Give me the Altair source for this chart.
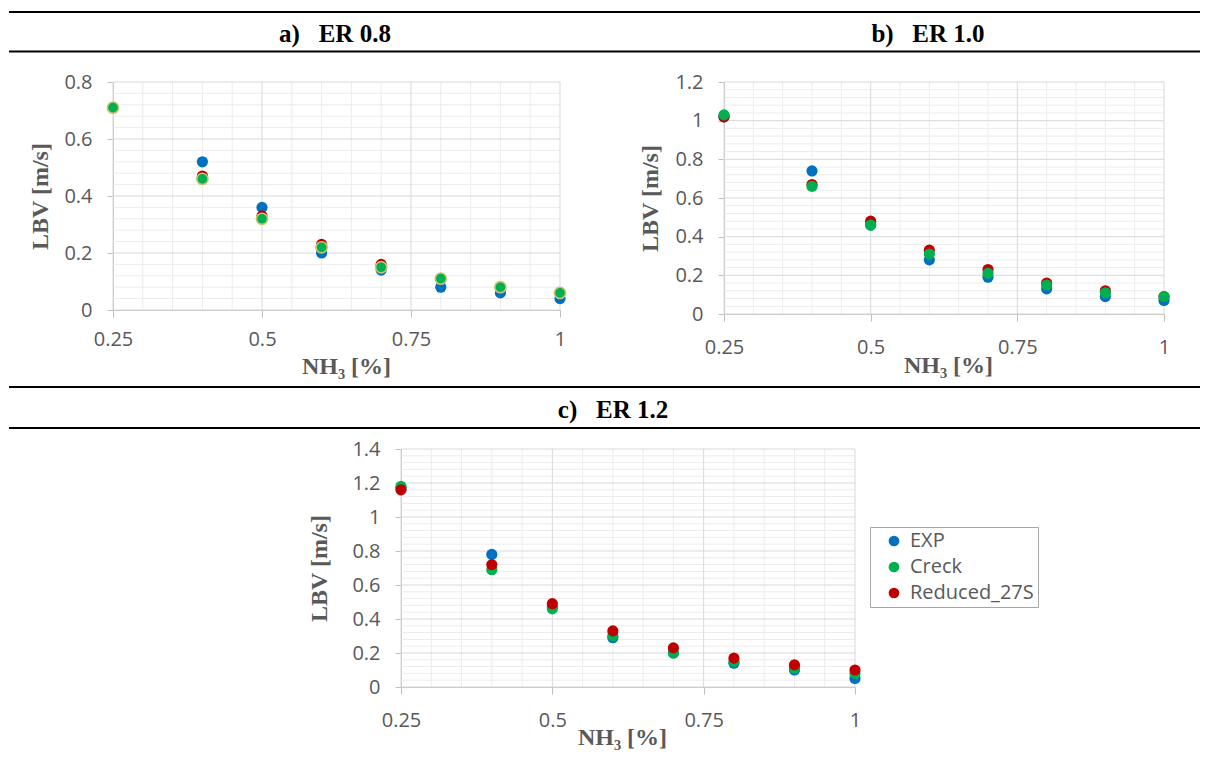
import altair as alt
import pandas as pd

W, H = 1208, 759

# ---------------- data ----------------
nh3 = [0.25, 0.4, 0.5, 0.6, 0.7, 0.8, 0.9, 1.0]
series_names = ["EXP", "Creck", "Reduced_27S"]

a_exp = [0.71, 0.52, 0.36, 0.20, 0.14, 0.08, 0.06, 0.04]
a_creck = [0.71, 0.46, 0.32, 0.22, 0.15, 0.11, 0.08, 0.06]
a_red = [0.71, 0.47, 0.33, 0.23, 0.16, 0.11, 0.08, 0.06]

b_exp = [1.02, 0.74, 0.46, 0.28, 0.19, 0.13, 0.09, 0.07]
b_creck = [1.03, 0.66, 0.46, 0.31, 0.21, 0.15, 0.11, 0.09]
b_red = [1.02, 0.67, 0.48, 0.33, 0.23, 0.16, 0.12, 0.09]

c_exp = [1.17, 0.78, 0.47, 0.29, 0.20, 0.14, 0.10, 0.05]
c_creck = [1.18, 0.69, 0.46, 0.30, 0.20, 0.15, 0.11, 0.08]
c_red = [1.16, 0.72, 0.49, 0.33, 0.23, 0.17, 0.13, 0.10]

x_ticks = [0.25, 0.5, 0.75, 1.0]
x_minor = [0.3, 0.35, 0.4, 0.45, 0.55, 0.6, 0.65, 0.7, 0.8, 0.85, 0.9, 0.95]
y_ticks_a = [0, 0.2, 0.4, 0.6, 0.8]
y_ticks_b = [0, 0.2, 0.4, 0.6, 0.8, 1.0, 1.2]
y_ticks_c = [0, 0.2, 0.4, 0.6, 0.8, 1.0, 1.2, 1.4]

NB = "\u00a0\u00a0\u00a0"
panel_titles = ["a)" + NB + "ER 0.8", "b)" + NB + "ER 1.0", "c)" + NB + "ER 1.2"]

COLORS = ["#0070C0", "#00B050", "#C00000"]
LABEL_GRAY = "#595959"
AXIS_GRAY = "#bfbfbf"
MAJOR_GRID = "#d9d9d9"
MINOR_GRID = "#ececec"
TICK_FONT = "Open Sans"


def frame(order):
    rows = []
    for name, vals in order:
        for x, y in zip(nh3, vals):
            rows.append({"nh3": x, "lbv": y, "series": name})
    return pd.DataFrame(rows)


def minor_y(ticks):
    top = ticks[-1]
    vals = []
    k = 0
    while True:
        v = round(k * 0.04, 4)
        if v > top + 1e-9:
            break
        if all(abs(v - t) > 1e-9 for t in ticks):
            vals.append(v)
        k += 1
    return vals


def panel(df, xr, yr, yticks, lab_pad, tx, ty, ytx, yty, legend=None, creck_ring=False):
    ymax = yticks[-1]
    xs = alt.Scale(domain=[0.25, 1.0], range=xr, nice=False, zero=False)
    ys = alt.Scale(domain=[0, ymax], range=yr, nice=False, zero=True)
    xaxis = alt.Axis(
        orient="bottom", offset=-(H - yr[0]), values=x_ticks, labelExpr="'' + datum.value", grid=False,
        domainColor=AXIS_GRAY, tickColor=AXIS_GRAY, tickSize=7,
        labelFont=TICK_FONT, labelFontSize=20, labelColor=LABEL_GRAY, labelPadding=lab_pad,
        labelFlush=False, labelOverlap=False,
        title="NH\u2083 [%]", titleFont="Liberation Serif", titleFontWeight="bold",
        titleFontSize=24, titleColor=LABEL_GRAY, titleX=tx, titleY=ty,
        titleBaseline="alphabetic", titleAlign="center",
    )
    yaxis = alt.Axis(
        orient="left", offset=-xr[0], values=yticks, labelExpr="'' + datum.value", grid=False,
        domainColor=AXIS_GRAY, tickColor=AXIS_GRAY, tickSize=6,
        labelFont=TICK_FONT, labelFontSize=20, labelColor=LABEL_GRAY, labelPadding=15,
        labelFlush=False, labelOverlap=False,
        title="LBV [m/s]", titleFont="Liberation Serif", titleFontWeight="bold",
        titleFontSize=24, titleColor=LABEL_GRAY, titleX=ytx - xr[0], titleY=yty,
        titleBaseline="alphabetic", titleAlign="center", titleAngle=270,
    )
    vmin = pd.DataFrame({"v": x_minor, "lo": 0, "hi": ymax})
    vmaj = pd.DataFrame({"v": x_ticks, "lo": 0, "hi": ymax})
    hmin = pd.DataFrame({"h": minor_y(yticks), "lo": 0.25, "hi": 1.0})
    hmaj = pd.DataFrame({"h": yticks, "lo": 0.25, "hi": 1.0})

    def vrule(d, color):
        return alt.Chart(d).mark_rule(color=color, strokeWidth=1).encode(
            x=alt.X("v:Q", scale=xs, axis=xaxis),
            y=alt.Y("lo:Q", scale=ys, axis=yaxis),
            y2="hi:Q",
        )

    def hrule(d, color):
        return alt.Chart(d).mark_rule(color=color, strokeWidth=1).encode(
            y=alt.Y("h:Q", scale=ys, axis=yaxis),
            x=alt.X("lo:Q", scale=xs, axis=xaxis),
            x2="hi:Q",
        )

    enc = dict(
        x=alt.X("nh3:Q", scale=xs, axis=xaxis),
        y=alt.Y("lbv:Q", scale=ys, axis=yaxis),
        color=alt.Color("series:N", scale=alt.Scale(domain=series_names, range=COLORS), legend=legend),
    )
    if creck_ring:
        enc["stroke"] = alt.value("#c8c272")
        enc["strokeWidth"] = alt.condition("datum.series == 'Creck'", alt.value(1.6), alt.value(0))
    pts = alt.Chart(df).mark_circle(size=125, opacity=1).encode(**enc)
    return alt.layer(hrule(hmin, MINOR_GRID), vrule(vmin, MINOR_GRID),
                     hrule(hmaj, MAJOR_GRID), vrule(vmaj, MAJOR_GRID), pts)


df_a = frame([("EXP", a_exp), ("Reduced_27S", a_red), ("Creck", a_creck)])
df_b = frame([("EXP", b_exp), ("Reduced_27S", b_red), ("Creck", b_creck)])
df_c = frame([("EXP", c_exp), ("Creck", c_creck), ("Reduced_27S", c_red)])

legend_c = alt.Legend(
    orient="none", legendX=870, legendY=527, title=None,
    symbolType="circle", symbolSize=115, symbolStrokeWidth=0, symbolOffset=10,
    labelFont=TICK_FONT, labelFontSize=20, labelColor=LABEL_GRAY, labelOffset=6,
    strokeColor="#a6a6a6", fillColor="white", padding=4, rowPadding=6,
)

pa = panel(df_a, [113, 560], [310, 82], y_ticks_a, 12, 346, 63, 47, 196, creck_ring=True)
pb = panel(df_b, [724, 1164], [314, 82], y_ticks_b, 16, 948, 58, 657, 198)
pc = panel(df_c, [401, 855], [687, 449], y_ticks_c, 16, 622, 57, 326, 568, legend=legend_c)

# decorations: section rules and panel headings
rules_df = pd.DataFrame({"yy": [12, 51.5, 387, 428]})
sep = alt.Chart(rules_df).mark_rule(color="black", strokeWidth=2).encode(
    y=alt.Y("yy:Q", scale=alt.Scale(domain=[0, H], range=[0, H]), axis=None),
    x=alt.value(9), x2=alt.value(1200),
)
heads_df = pd.DataFrame({"t": panel_titles, "px": [335, 928, 613], "py": [42, 42, 418]})
heads = alt.Chart(heads_df).mark_text(
    font="Liberation Serif", fontWeight="bold", fontSize=25, color="black",
    align="center", baseline="alphabetic",
).encode(
    x=alt.X("px:Q", scale=alt.Scale(domain=[0, W], range=[0, W]), axis=None),
    y=alt.Y("py:Q", scale=alt.Scale(domain=[0, H], range=[0, H]), axis=None),
    text="t:N",
)
deco = alt.layer(sep, heads).resolve_scale(x="independent", y="independent")

chart = alt.layer(pa, pb, pc, deco).resolve_scale(
    x="independent", y="independent", color="independent"
).resolve_axis(x="independent", y="independent").resolve_legend(color="independent").properties(
    width=W, height=H, padding=0, autosize=alt.AutoSizeParams(type="none")
).configure_view(stroke=None)

chart.save("out.html", embed_options={"renderer": "svg", "actions": False})
